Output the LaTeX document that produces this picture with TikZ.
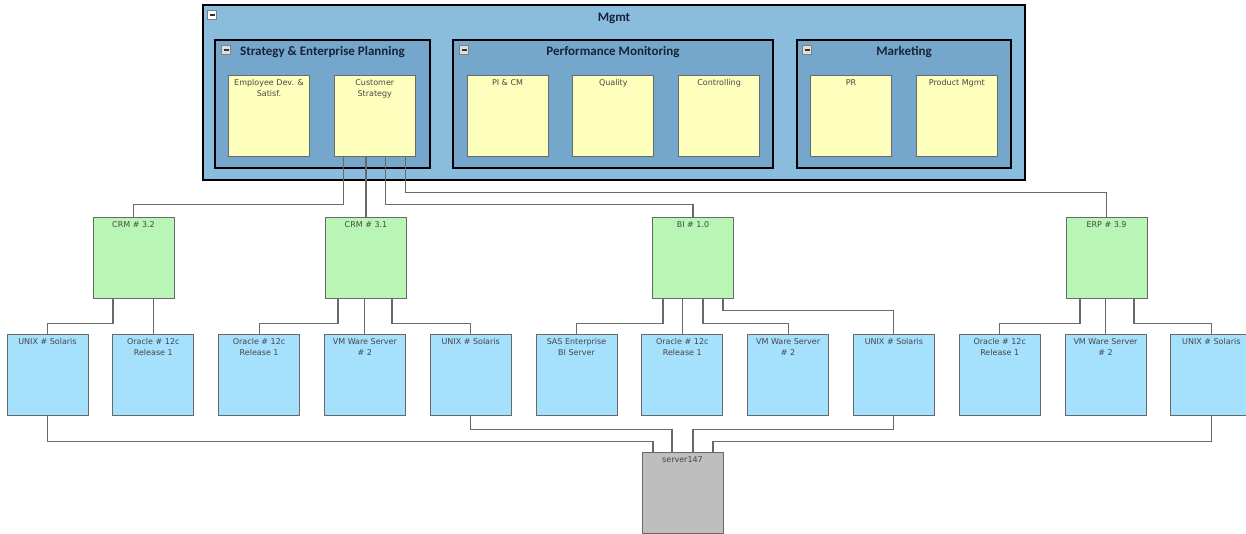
\documentclass[tikz,border=0pt]{standalone}
\usepackage{fontspec}
\setmainfont{DejaVu Sans}
\newfontfamily\hdfont{Carlito}
\usetikzlibrary{positioning}

\definecolor{mgmtblue}{RGB}{138,188,222}
\definecolor{grpblue}{RGB}{117,167,204}
\definecolor{bizyellow}{RGB}{255,255,189}
\definecolor{appgreen}{RGB}{185,245,180}
\definecolor{infblue}{RGB}{165,224,253}
\definecolor{srvgray}{RGB}{190,190,190}
\definecolor{edgegray}{RGB}{105,105,105}
\definecolor{txtgray}{RGB}{70,70,70}
\definecolor{hdnavy}{RGB}{25,35,55}

\begin{document}
\begin{tikzpicture}[x=1pt, y=-1pt, node distance={105.8pt}]
            \tikzstyle{lbl} = [anchor=north, align=center, font=\fontsize{8}{11}\selectfont, text=txtgray, inner sep=0pt, yshift=-4.5pt]
            \tikzstyle{hd} = [anchor=north, font=\hdfont\bfseries\fontsize{13}{15}\selectfont, text=hdnavy, inner sep=0pt, yshift=-7pt]
            \tikzstyle{elem} = [draw=edgegray, line width=1pt, minimum width=81pt, minimum height=81pt, inner sep=0pt]
            \tikzstyle{bizbox} = [elem, fill=bizyellow]
            \tikzstyle{appbox} = [elem, fill=appgreen]
            \tikzstyle{infbox} = [elem, fill=infblue]
            \tikzstyle{srvbox} = [elem, fill=srvgray]
            \tikzstyle{minus} = [draw=gray, fill=white, minimum size=9pt, inner sep=0pt, path picture={\draw[line width=1.3pt, black!80] ([xshift=2pt]path picture bounding box.west) -- ([xshift=-2pt]path picture bounding box.east);}]
            \tikzstyle{link} = [draw=edgegray, line width=1.1pt]
            \tikzset{txt/.style={label={[lbl]north:{#1}}},
                     grp/.style={draw=black, line width=2.4pt, fill=grpblue, inner sep=0pt, minimum height=128pt, label={[hd]north:{#1}}}}

            \useasboundingbox (0,0) rectangle (1246,533);

            % management layer
            \node[draw=black, line width=2.2pt, fill=mgmtblue, minimum width=822pt, minimum height=175pt, inner sep=0pt, label={[hd, yshift=-2pt]north:Mgmt}] (mgmt) at (614,92.5) {};
            \node[minus] (mgmtbtn) at (212,15) {};
            \node[grp={Strategy \& Enterprise Planning}, minimum width=215pt] (sep) at (322.5,104) {};
            \node[grp={Performance Monitoring}, minimum width=320pt] (pm) at (613,104) {};
            \node[grp=Marketing, minimum width=214pt] (mkt) at (904,104) {};
            \node[minus, fill=gray!25] (sepbtn) at (226,50) {};
            \node[minus, fill=gray!25] (pmbtn) at (464,50) {};
            \node[minus, fill=gray!25] (mktbtn) at (807,50) {};

            \node[bizbox, txt={Employee Dev. \&\\Satisf.}] (emp) at (269,115.5) {};
            \node[bizbox, txt={Customer\\Strategy}] (cs) [right of = emp] {};
            \node[bizbox, txt={PI \& CM}] (picm) at (507.5,115.5) {};
            \node[bizbox, txt={Quality}] (qual) [right of = picm] {};
            \node[bizbox, txt={Controlling}] (ctrl) [right of = qual] {};
            \node[bizbox, txt={PR}] (pr) at (851,115.5) {};
            \node[bizbox, txt={Product Mgmt}] (prod) [right of = pr] {};

            % applications
            \node[appbox, txt={CRM \# 3.2}] (crm32) at (133.5,257.5) {};
            \node[appbox, txt={CRM \# 3.1}] (crm31) at (366,257.5) {};
            \node[appbox, txt={BI \# 1.0}] (bi) at (693,257.5) {};
            \node[appbox, txt={ERP \# 3.9}] (erp) at (1106.5,257.5) {};

            % infrastructure
            \node[infbox, txt={UNIX \# Solaris}] (s1) at (47.5,374.5) {};
            \node[infbox, txt={Oracle \# 12c\\Release 1}] (s2) [right of = s1] {};
            \node[infbox, txt={Oracle \# 12c\\Release 1}] (s3) [right of = s2] {};
            \node[infbox, txt={VM Ware Server\\\# 2}] (s4) [right of = s3] {};
            \node[infbox, txt={UNIX \# Solaris}] (s5) [right of = s4] {};
            \node[infbox, txt={SAS Enterprise\\BI Server}] (s6) [right of = s5] {};
            \node[infbox, txt={Oracle \# 12c\\Release 1}] (s7) [right of = s6] {};
            \node[infbox, txt={VM Ware Server\\\# 2}] (s8) [right of = s7] {};
            \node[infbox, txt={UNIX \# Solaris}] (s9) [right of = s8] {};
            \node[infbox, txt={Oracle \# 12c\\Release 1}] (s10) [right of = s9] {};
            \node[infbox, txt={VM Ware Server\\\# 2}] (s11) [right of = s10] {};
            \node[infbox, txt={UNIX \# Solaris}] (s12) [right of = s11] {};

            \node[srvbox, txt={server147}] (srv) at (682.5,492.5) {};

            \draw[link] ([xshift=-31pt]cs.south) -- ++(0,48) -| (crm32.north);
            \draw[link] (cs.south -| crm31.north) -- (crm31.north);
            \draw[link] ([xshift=11pt]cs.south) -- ++(0,48) -| (bi.north);
            \draw[link] ([xshift=31pt]cs.south) -- ++(0,36) -| (erp.north);

            \draw[link] ([xshift=-20.5pt]crm32.south) -- ++(0,25) -| (s1.north);
            \draw[link] (crm32.south -| s2.north) -- (s2.north);
            \draw[link] ([xshift=-28pt]crm31.south) -- ++(0,25) -| (s3.north);
            \draw[link] (crm31.south -| s4.north) -- (s4.north);
            \draw[link] ([xshift=26pt]crm31.south) -- ++(0,25) -| (s5.north);
            \draw[link] ([xshift=-30pt]bi.south) -- ++(0,25) -| (s6.north);
            \draw[link] (bi.south -| s7.north) -- (s7.north);
            \draw[link] ([xshift=10pt]bi.south) -- ++(0,25) -| (s8.north);
            \draw[link] ([xshift=30pt]bi.south) -- ++(0,12) -| (s9.north);
            \draw[link] ([xshift=-26.5pt]erp.south) -- ++(0,25) -| (s10.north);
            \draw[link] (erp.south -| s11.north) -- (s11.north);
            \draw[link] ([xshift=27.5pt]erp.south) -- ++(0,25) -| (s12.north);

            \draw[link] (s1.south) -- ++(0,26) -| ([xshift=-29.5pt]srv.north);
            \draw[link] (s5.south) -- ++(0,14) -| ([xshift=-10.5pt]srv.north);
            \draw[link] (s9.south) -- ++(0,14) -| ([xshift=10.5pt]srv.north);
            \draw[link] (s12.south) -- ++(0,26) -| ([xshift=30.5pt]srv.north);
        \end{tikzpicture}
\end{document}
